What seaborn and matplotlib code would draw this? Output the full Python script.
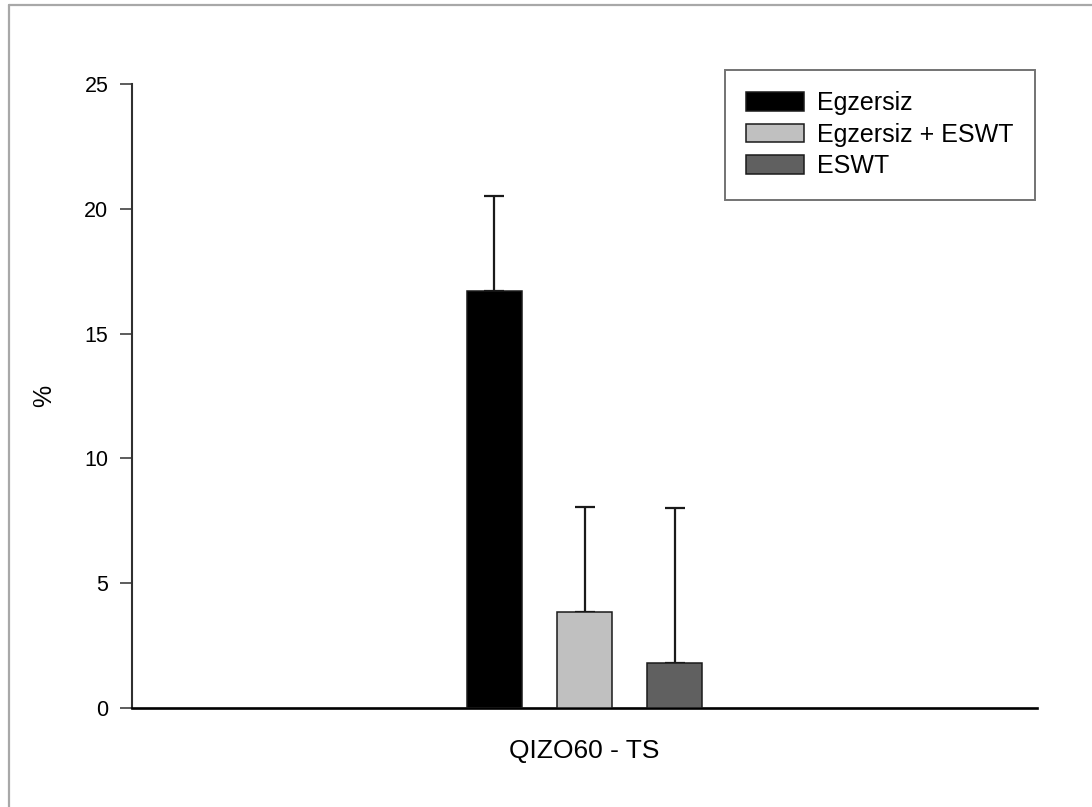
import matplotlib
matplotlib.use('Agg')
import matplotlib.pyplot as plt
import seaborn as sns
import pandas as pd
from matplotlib.lines import Line2D

# valores
categoria = 'QIZO60 - TS'
grupos = ['Egzersiz', 'Egzersiz + ESWT', 'ESWT']
medias = [16.7, 3.85, 1.8]
erros = [3.8, 4.2, 6.2]
cores = ['#000000', '#c0c0c0', '#606060']
yticks = [0, 5, 10, 15, 20, 25]

sns.set_theme(style='ticks')
plt.rcParams['font.family'] = ['Liberation Sans', 'DejaVu Sans']
plt.rcParams['text.color'] = 'black'
plt.rcParams['axes.labelcolor'] = 'black'
plt.rcParams['xtick.labelcolor'] = 'black'
plt.rcParams['ytick.labelcolor'] = 'black'

dados = pd.DataFrame({'x': [categoria] * len(grupos), 'grupo': grupos, 'valor': medias})

fig = plt.figure(figsize=(10.92, 8.07), dpi=100)
ax = fig.add_axes([132 / 1092, 1 - 708 / 807, 905 / 1092, 624 / 807])

sns.barplot(data=dados, x='x', y='valor', hue='grupo', hue_order=grupos,
            palette=cores, width=0.8, gap=0.39, edgecolor='#1a1a1a',
            linewidth=1.1, ax=ax, zorder=3)

# barras de erro so para cima
for cont, e in zip(ax.containers, erros):
    for p in cont:
        xc = p.get_x() + p.get_width() / 2
        ax.errorbar(xc, p.get_height(), yerr=[[0], [e]], fmt='none',
                    ecolor='#1a1a1a', elinewidth=1.6, capsize=7, capthick=1.6,
                    zorder=2)

ax.set_xlim(-1.34, 1.34)
ax.set_ylim(0, 25)
ax.set_yticks(yticks)
ax.set_xlabel('')
ax.set_ylabel('%', fontsize=18)
ax.yaxis.set_label_coords((56 - 132) / 905, 0.5)

sns.despine(ax=ax)
ax.spines['left'].set_linewidth(1.5)
ax.spines['left'].set_color('#303030')
ax.spines['bottom'].set_linewidth(1.9)
ax.spines['bottom'].set_color('#000000')
ax.tick_params(axis='y', length=9, width=1.1, color='#303030', pad=8,
               labelsize=15.5)
ax.tick_params(axis='x', length=0, pad=22, labelsize=19)

leg = ax.legend(loc='upper right', bbox_to_anchor=((1035 - 132) / 905, (708 - 70) / 624),
                fontsize=18, frameon=True, fancybox=False, handlelength=2.3,
                handleheight=0.75, handletextpad=0.55, labelspacing=0.3,
                borderpad=0.85, borderaxespad=0, title=None)
leg.get_frame().set_edgecolor('#505050')
leg.get_frame().set_linewidth(1.4)

# moldura externa (so topo e esquerda aparecem)
fig.add_artist(Line2D([9 / 1092, 1.0], [1 - 5 / 807, 1 - 5 / 807],
                      transform=fig.transFigure, color='#a8a8a8', lw=1.6))
fig.add_artist(Line2D([9 / 1092, 9 / 1092], [0, 1 - 5 / 807],
                      transform=fig.transFigure, color='#a8a8a8', lw=1.6))

plt.savefig('out.png', dpi=100)
